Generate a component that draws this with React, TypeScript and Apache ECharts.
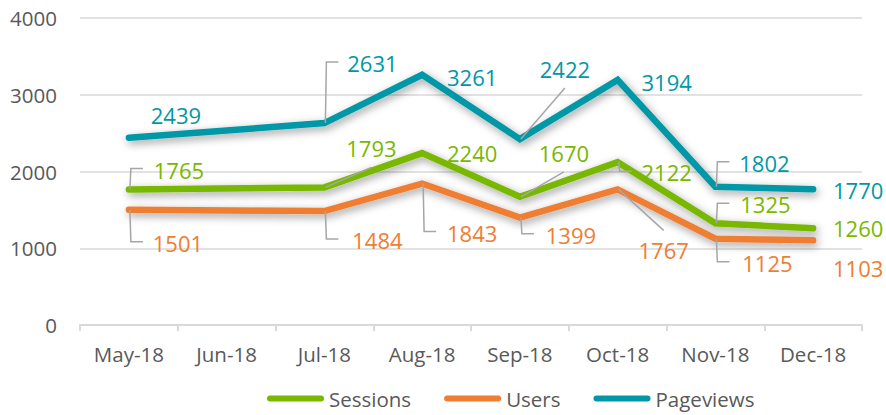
import React, { useEffect, useRef } from 'react';
import * as echarts from 'echarts';

const categories = ['May-18', 'Jun-18', 'Jul-18', 'Aug-18', 'Sep-18', 'Oct-18', 'Nov-18', 'Dec-18'];
const sessions: (number | null)[] = [1765, null, 1793, 2240, 1670, 2122, 1325, 1260];
const users: (number | null)[] = [1501, null, 1484, 1843, 1399, 1767, 1125, 1103];
const pageviews: (number | null)[] = [2439, null, 2631, 3261, 2422, 3194, 1802, 1770];
const yMin = 0;
const yMax = 4000;
const yStep = 1000;

// label placement: pixel offset of label centre from its point, and leader style
type Lead = 'none' | 'elbow' | 'diag';
type Pos = [number, number, Lead] | null;
const sessionsLabelPos: Pos[] = [[50, -20, 'elbow'], null, [47, -39, 'diag'], [50, 0, 'none'], [44, -44, 'diag'], [49, 10, 'elbow'], [50, -19, 'elbow'], [45, 0, 'none']];
const usersLabelPos: Pos[] = [[49, 33, 'elbow'], null, [53, 29, 'elbow'], [50, 49, 'elbow'], [51, 17, 'elbow'], [46, 61, 'diag'], [52, 24, 'elbow'], [45, 28, 'none']];
const pageviewsLabelPos: Pos[] = [[47, -23, 'none'], null, [48, -60, 'elbow'], [50, 2, 'none'], [45, -70, 'diag'], [49, 2, 'none'], [49, -24, 'elbow'], [45, 1, 'none']];

const GREEN = '#78b800';
const ORANGE = '#ef7d32';
const TEAL = '#0098a6';
const TEXT = '#595959';
const GRIDC = '#d9d9d9';
const LEADER = '#a6a6a6';
const FONT = '"Open Sans", "Noto Sans", sans-serif';

function mkLine(name: string, data: (number | null)[], color: string) {
  return {
    name,
    type: 'line',
    data,
    color,
    connectNulls: true,
    symbol: 'none',
    showSymbol: false,
    silent: true,
    itemStyle: { color },
    lineStyle: {
      color,
      width: 6.5,
      cap: 'round',
      join: 'miter',
      shadowColor: 'rgba(0,0,0,0.4)',
      shadowBlur: 8,
      shadowOffsetX: 2,
      shadowOffsetY: 3,
    },
    z: 2,
  };
}

function mkLabels(name: string, data: (number | null)[], pos: Pos[], color: string) {
  const items: number[][] = [];
  data.forEach((v, i) => {
    if (v != null) items.push([i, v]);
  });
  return {
    name: name + ' labels',
    type: 'custom',
    coordinateSystem: 'cartesian2d',
    data: items,
    encode: { x: 0, y: 1 },
    silent: true,
    clip: false,
    z: 5,
    renderItem: (params: any, api: any) => {
      const ci = api.value(0);
      const v = api.value(1);
      const pt = api.coord([ci, v]);
      const px = pt[0];
      const py = pt[1];
      const p = pos[ci] || [45, -20, 'none'];
      const lx = px + p[0];
      const ly = py + p[1];
      const children: any[] = [];
      if (p[2] === 'elbow') {
        children.push({
          type: 'polyline',
          shape: { points: [[px + 1, py], [px + 2, ly - 1], [px + 14, ly - 1]] },
          style: { stroke: LEADER, lineWidth: 1.5, fill: 'none' },
        });
      } else if (p[2] === 'diag') {
        const ey = p[1] < 0 ? ly + 19 : ly - 20;
        children.push({
          type: 'polyline',
          shape: { points: [[px + 1, py], [lx, ey]] },
          style: { stroke: LEADER, lineWidth: 1.5, fill: 'none' },
        });
      }
      children.push({
        type: 'text',
        x: lx,
        y: ly,
        style: {
          text: String(v),
          fill: color,
          fontSize: 22,
          fontFamily: FONT,
          align: 'center',
          verticalAlign: 'middle',
        },
      });
      return { type: 'group', children };
    },
  };
}

export default function App() {
  const ref = useRef<HTMLDivElement>(null);
  useEffect(() => {
    document.body.style.margin = '0';
    if (!ref.current) return;
    const chart = echarts.init(ref.current, null, { renderer: 'svg' });
    const pillIcon = 'path://M3,0 L54,0 A3,3 0 0 1 54,6 L3,6 A3,3 0 0 1 3,0 Z';
    chart.setOption({
      animation: false,
      backgroundColor: '#ffffff',
      textStyle: { fontFamily: FONT },
      grid: { left: 80, right: 24, top: 18, bottom: 90, containLabel: false },
      legend: {
        data: ['Sessions', 'Users', 'Pageviews'],
        left: 267,
        top: 388,
        padding: 0,
        icon: pillIcon,
        itemWidth: 57,
        itemHeight: 7,
        itemGap: 33,
        itemStyle: { borderWidth: 0 },
        textStyle: { color: TEXT, fontSize: 20.5, fontFamily: FONT },
        selectedMode: false,
      },
      xAxis: {
        type: 'category',
        data: categories,
        boundaryGap: true,
        axisLine: { show: true, lineStyle: { color: GRIDC, width: 2 } },
        axisTick: { show: true, length: 6, lineStyle: { color: GRIDC, width: 2 } },
        axisLabel: { color: TEXT, fontSize: 20.5, margin: 18, fontFamily: FONT },
        splitLine: { show: false },
      },
      yAxis: {
        type: 'value',
        min: yMin,
        max: yMax,
        interval: yStep,
        axisLine: { show: false },
        axisTick: { show: false },
        axisLabel: {
          color: TEXT,
          fontSize: 20.5,
          margin: 23,
          fontFamily: FONT,
          formatter: (v: number) => String(v),
        },
        splitLine: { lineStyle: { color: GRIDC, width: 1.5 } },
      },
      series: [
        mkLine('Sessions', sessions, GREEN),
        mkLine('Users', users, ORANGE),
        mkLine('Pageviews', pageviews, TEAL),
        mkLabels('Sessions', sessions, sessionsLabelPos, GREEN),
        mkLabels('Users', users, usersLabelPos, ORANGE),
        mkLabels('Pageviews', pageviews, pageviewsLabelPos, TEAL),
      ],
    });
    return () => {
      chart.dispose();
    };
  }, []);
  return <div ref={ref} style={{ position: 'absolute', left: 0, top: 0, width: 886, height: 415 }} />;
}
